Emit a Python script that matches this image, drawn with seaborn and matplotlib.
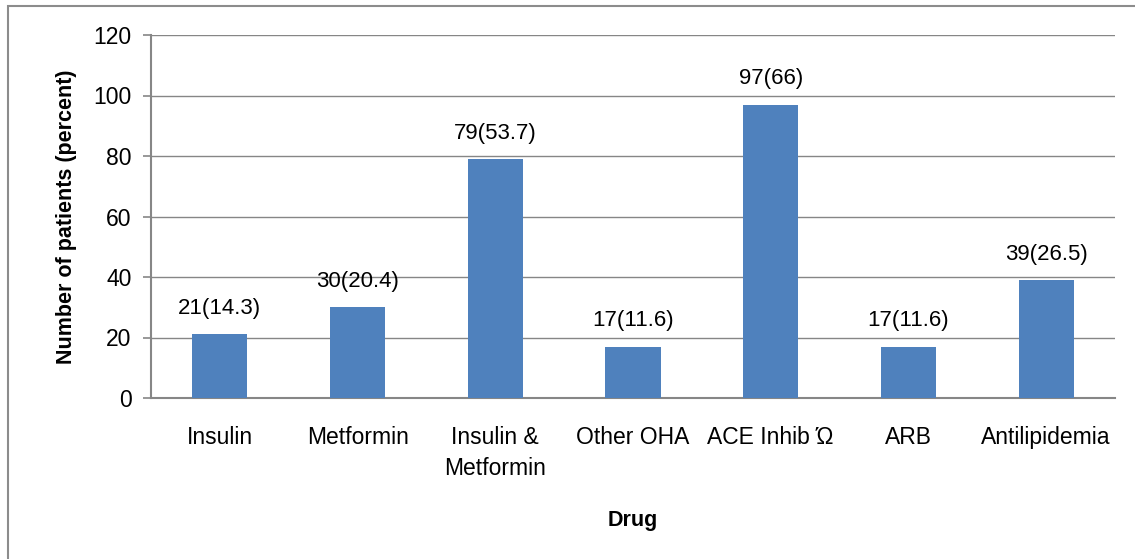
import matplotlib
matplotlib.use("Agg")
import matplotlib.pyplot as plt
import seaborn as sns
import pandas as pd
from matplotlib.patches import Rectangle

categories = ["Insulin", "Metformin", "Insulin &\nMetformin", "Other OHA",
              "ACE Inhib \u038f", "ARB", "Antilipidemia"]
counts = [21, 30, 79, 17, 97, 17, 39]
percents = ["14.3", "20.4", "53.7", "11.6", "66", "11.6", "26.5"]
yticks = [0, 20, 40, 60, 80, 100, 120]

sns.set_style("white")
plt.rcParams['font.family'] = ['Liberation Sans', 'DejaVu Sans']
plt.rcParams['text.color'] = 'black'
plt.rcParams['xtick.color'] = 'black'
plt.rcParams['ytick.color'] = 'black'
plt.rcParams['axes.labelcolor'] = 'black'

W, H = 1135, 559
fig = plt.figure(figsize=(W / 100, H / 100), dpi=100)
ax = fig.add_axes([151 / W, 1 - 398 / H, (1115 - 151) / W, (398 - 35) / H])

df = pd.DataFrame({"Drug": categories, "Count": counts})
sns.barplot(data=df, x="Drug", y="Count", color="#4F81BD", saturation=1,
            width=0.4, ax=ax, zorder=3, linewidth=0)

for i, (c, p) in enumerate(zip(counts, percents)):
    ax.annotate(f"{c}({p})", xy=(i, c), xytext=(0, 11), textcoords="offset points",
                ha="center", va="bottom", fontsize=16, color="black")

ax.set_ylim(0, 120)
ax.set_yticks(yticks)
ax.set_xlim(-0.5, len(categories) - 0.5)
ax.yaxis.grid(True, color="#868686", linewidth=1.0, zorder=0)
ax.set_axisbelow(True)
for s in ["top", "right"]:
    ax.spines[s].set_visible(False)
for s in ["left", "bottom"]:
    ax.spines[s].set_color("#868686")
    ax.spines[s].set_linewidth(1.5)
ax.tick_params(axis="y", length=6, width=1.2, color="#868686", labelcolor="black",
               pad=8, labelsize=16.5, left=True, direction="out")
ax.tick_params(axis="x", length=0, pad=20, labelsize=16.5, labelcolor="black")
for lbl in ax.get_xticklabels():
    lbl.set_linespacing(1.45)
ax.set_ylabel("Number of patients (percent)", fontsize=15.5, fontweight="bold", labelpad=12)
ax.set_xlabel("Drug", fontsize=15.5, fontweight="bold", labelpad=22)

fig.patches.append(Rectangle((8 / W, -0.1), 1.2, 1 - 6 / H + 0.1, transform=fig.transFigure,
                             fill=False, edgecolor="#8c8c8c", linewidth=1.5))

fig.savefig("out.png", dpi=100)
